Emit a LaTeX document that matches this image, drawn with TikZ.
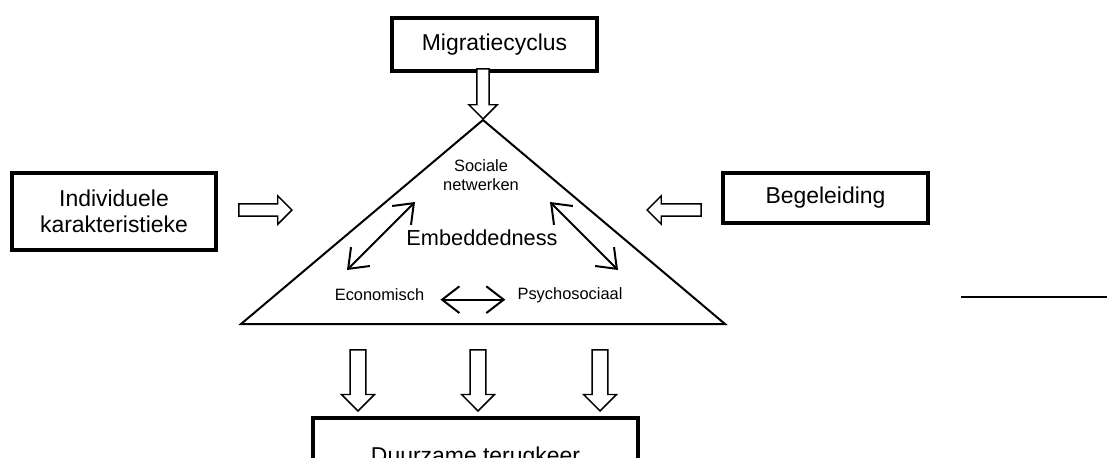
\documentclass[tikz,border=0pt]{standalone}
\usepackage{fontspec}
\setmainfont{Liberation Sans}
\usetikzlibrary{arrows.meta,positioning,shapes.arrows}

\tikzset{
  box/.style={draw,line width=2.5pt,inner sep=0pt,align=center,
    font=\fontsize{17.2}{19.5}\selectfont},
  small/.style={inner sep=0pt,align=center,font=\fontsize{12.3}{14.3}\selectfont},
  hollow/.style={single arrow,draw,line width=1.1pt,fill=white,inner xsep=0pt,
    inner ysep=4.1pt,single arrow head extend=6pt,minimum height=#1,anchor=tip},
  hollowbig/.style={hollow=#1,inner ysep=5.4pt,single arrow head extend=6.4pt},
  both/.style={line width=1.5pt,{Straight Barb[length=13pt,width=20pt]}-{Straight Barb[length=13pt,width=20pt]}}
}

\begin{document}
\begin{tikzpicture}[x=0.75pt,y=-0.75pt]
  \useasboundingbox (0,0) rectangle (1109,457);
  \clip (0,0) rectangle (1109,457);

  % boxes
  \node[box,minimum width=153.75pt,minimum height=39.75pt] (migratie) at (494.5,44.5) {Migratiecyclus};
  \node[box,minimum width=153pt,minimum height=57.75pt] (individu) at (114,211.5) {Individuele\\karakteristieke};
  \node[box,minimum width=153.75pt,minimum height=37.5pt] (begeleiding) at (825.5,198) {Begeleiding};
  \node[box,minimum width=243.75pt,minimum height=60pt] (terugkeer) at (475.5,458) {Duurzame terugkeer};

  % triangle
  \coordinate (top) at (483,120);
  \coordinate (left) at (241,324);
  \coordinate (right) at (725,324);
  \draw[line width=1.5pt,line join=miter] (top) -- (left) -- (right) -- cycle;

  % texts in the triangle
  \node[small] (sociaal) at (481,175) {Sociale\\netwerken};
  \node[inner sep=0pt,font=\fontsize{16.3}{18}\selectfont] (embed) at (482,238) {Embeddedness};
  \node[small] (econ) at (379.5,295) {Economisch};
  \node[small] (psycho) at (570,295) {Psychosociaal};

  % double arrows
  \coordinate (sl) at (415,202);
  \coordinate (el) at (347,270);
  \coordinate (sr) at (550,202);
  \coordinate (er) at (618,270);
  \draw[both] (sl) -- (el);
  \draw[both] (sr) -- (er);
  \draw[both] ([xshift=12pt,yshift=-3.5pt]econ.east) -- ([xshift=-9pt,yshift=-3.5pt]psycho.west);

  % hollow arrows
  \node[hollow=37.5pt,rotate=-90] (inmigratie) at (top) {};
  \node[hollow=39.75pt] (inindividu) at (293,210) {};
  \node[hollow=40.5pt,rotate=180] (inbegeleiding) at (646,210) {};
  \foreach \x[count=\i] in {358,478,600} {
    \node[hollowbig=45.75pt,rotate=-90] (uit\i) at (\x,412) {};
  }

  % line at the right
  \coordinate (lijnA) at (961,297);
  \coordinate (lijnB) at (1107,297);
  \draw[line width=1.9pt] (lijnA) -- (lijnB);
\end{tikzpicture}
\end{document}
